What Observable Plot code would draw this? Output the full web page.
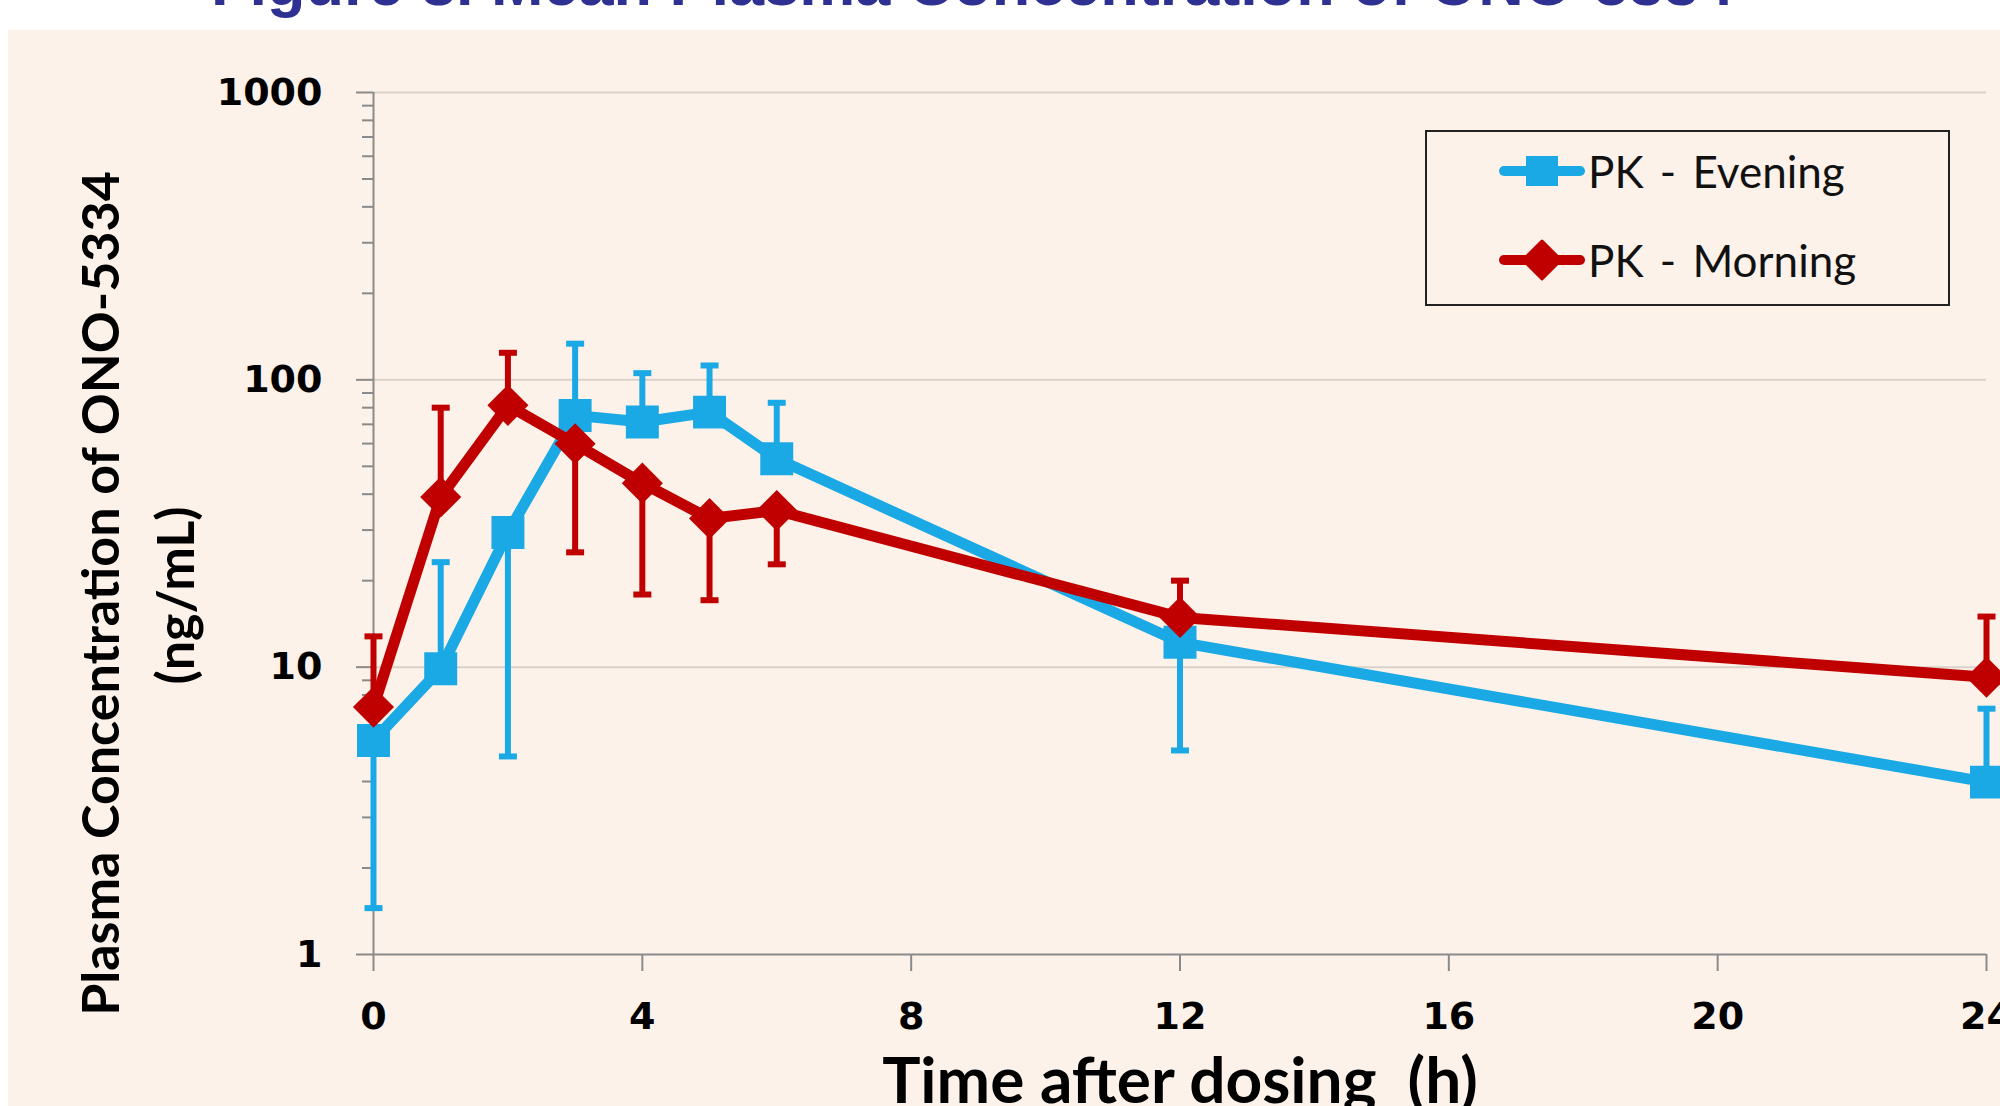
<!DOCTYPE html>
<html><head><meta charset="utf-8">
<script src="https://cdn.jsdelivr.net/npm/d3@7"></script>
<script src="https://cdn.jsdelivr.net/npm/@observablehq/plot@0.6"></script>
<style>
html,body{margin:0;padding:0;background:#fff;}
body{width:2000px;height:1106px;position:relative;overflow:hidden;}
#panel{position:absolute;left:8px;top:30px;right:0;bottom:0;background:#FCF2E9;}
#title{position:absolute;left:211px;top:-48px;font:bold 63px "Liberation Sans",Arial,sans-serif;color:#2E3092;white-space:nowrap;line-height:1;}
#chart{position:absolute;left:0;top:0;}
#legend{position:absolute;left:1425px;top:130px;width:521px;height:172px;border:2px solid #222;background:#FCF2E9;}
.lrow{position:absolute;left:72px;height:50px;display:flex;align-items:center;font:44px Lato,"Open Sans",sans-serif;color:#111;white-space:pre;word-spacing:5px;}
.lrow svg{display:block;margin-right:3px;}
</style></head><body>
<div id="panel"></div>
<div id="title">Figure 8. Mean Plasma Concentration of ONO-5334</div>
<div id="chart"></div>
<div id="legend"></div>
<script>
// ---- data ----
const times = [0, 1, 2, 3, 4, 5, 6, 12, 24];
const seriesNames = ["PK - Evening", "PK - Morning"];
const eveningMean = [5.56, 9.87, 29.4, 75.2, 71.3, 77.2, 53.1, 12.2, 3.98];
const eveningHigh = [null, 23.2, null, 133.6, 105.5, 112.2, 83.2, null, 7.17];
const eveningLow  = [1.45, null, 4.89, null, null, null, null, 5.13, null];
const morningMean = [7.26, 39.1, 81.5, 59.9, 43.7, 32.9, 35.1, 14.9, 9.23];
const morningHigh = [12.8, 80.0, 124.2, null, null, null, null, 20.0, 15.0];
const morningLow  = [null, null, null, 25.1, 17.9, 17.1, 22.8, null, null];
const xTicks = [0, 4, 8, 12, 16, 20, 24];
const yMajor = [1, 10, 100, 1000];
const yMinor = [2,3,4,5,6,7,8,9,20,30,40,50,60,70,80,90,200,300,400,500,600,700,800,900];
const yTitle1 = "Plasma Concentration of ONO-5334";
const yTitle2 = "(ng/mL)";
const xTitle = "Time after dosing\u00a0\u00a0(h)";

const blue = "#1AA9E4", red = "#C00000", axisGray = "#8A8A8A", gridGray = "#D9D2CB";

const rows = (mean, lo, hi) => times.map((t, i) => ({t, mean: mean[i], lo: lo[i], hi: hi[i]}));
const ev = rows(eveningMean, eveningLow, eveningHigh);
const mo = rows(morningMean, morningLow, morningHigh);

const cap = {draw(ctx) { ctx.rect(-9, -3, 18, 6); }};

function seriesMarks(data, color, symbol, r) {
  const hi = data.filter(d => d.hi != null), lo = data.filter(d => d.lo != null);
  return [
    Plot.line(data, {x: "t", y: "mean", stroke: color, strokeWidth: 11, strokeLinejoin: "round", strokeLinecap: "round"}),
    Plot.ruleX(hi, {x: "t", y1: "mean", y2: "hi", stroke: color, strokeWidth: 6}),
    Plot.ruleX(lo, {x: "t", y1: "mean", y2: "lo", stroke: color, strokeWidth: 6}),
    Plot.dot(hi, {x: "t", y: "hi", symbol: cap, fill: color, stroke: null}),
    Plot.dot(lo, {x: "t", y: "lo", symbol: cap, fill: color, stroke: null}),
    Plot.dot(data, {x: "t", y: "mean", symbol, r, fill: color, stroke: null})
  ];
}

const chart = Plot.plot({
  width: 2000, height: 1106,
  marginLeft: 373, marginRight: 14, marginTop: 92, marginBottom: 152,
  style: {background: "transparent", fontFamily: "DejaVu Sans", fontWeight: "bold", fontSize: "38px", color: "#000", overflow: "visible"},
  x: {domain: [0, 24], label: null},
  y: {type: "log", domain: [1, 1000], label: null},
  marks: [
    Plot.ruleY([10, 100, 1000], {stroke: gridGray, strokeWidth: 2}),
    Plot.axisY({ticks: yMinor, tickSize: 11, tickFormat: () => "", stroke: axisGray, strokeWidth: 2, label: null}),
    Plot.axisY({ticks: yMajor, tickSize: 17, tickPadding: 34, tickFormat: d => String(d), stroke: axisGray, strokeWidth: 2, fill: "#000", label: null}),
    Plot.axisX({ticks: xTicks, tickSize: 17, tickPadding: 31, tickFormat: d => String(d), stroke: axisGray, strokeWidth: 2, fill: "#000", label: null}),
    Plot.ruleX([0], {stroke: axisGray, strokeWidth: 2}),
    Plot.ruleY([1], {stroke: axisGray, strokeWidth: 2}),
    ...seriesMarks(ev, blue, "square", 18.6),
    ...seriesMarks(mo, red, "diamond2", 18.5),
    Plot.text([yTitle1], {frameAnchor: "left", rotate: -90, dx: -255, dy: 70, lineAnchor: "bottom", textAnchor: "middle", fontFamily: "Lato", fontWeight: "bold", fontSize: 52, fill: "#000"}),
    Plot.text([yTitle2], {frameAnchor: "left", rotate: -90, dx: -180, dy: 72, lineAnchor: "bottom", textAnchor: "middle", fontFamily: "Lato", fontWeight: "bold", fontSize: 52, fill: "#000"}),
    Plot.text([xTitle], {frameAnchor: "bottom", dy: 148, lineAnchor: "bottom", textAnchor: "middle", fontFamily: "Lato", fontWeight: "bold", fontSize: 64, fill: "#000"})
  ]
});
document.getElementById("chart").appendChild(chart);

// legend
const legend = document.getElementById("legend");
const swatch = (color, kind) => {
  const s = d3.create("svg").attr("width", 86).attr("height", 46);
  s.append("line").attr("x1", 5).attr("x2", 81).attr("y1", 23).attr("y2", 23)
    .attr("stroke", color).attr("stroke-width", 10).attr("stroke-linecap", "round");
  if (kind === "square") s.append("rect").attr("x", 27).attr("y", 8).attr("width", 32).attr("height", 30).attr("fill", color);
  else s.append("path").attr("d", "M43,4L62,23L43,42L24,23Z").attr("fill", color).attr("stroke", color).attr("stroke-width", 3).attr("stroke-linejoin", "round");
  return s.node();
};
[[seriesNames[0], blue, "square", 14], [seriesNames[1], red, "diamond", 103]].forEach(([name, color, kind, top]) => {
  const row = document.createElement("div");
  row.className = "lrow";
  row.style.top = top + "px";
  row.appendChild(swatch(color, kind));
  const sp = document.createElement("span");
  sp.textContent = name;
  row.appendChild(sp);
  legend.appendChild(row);
});
</script>
</body></html>
